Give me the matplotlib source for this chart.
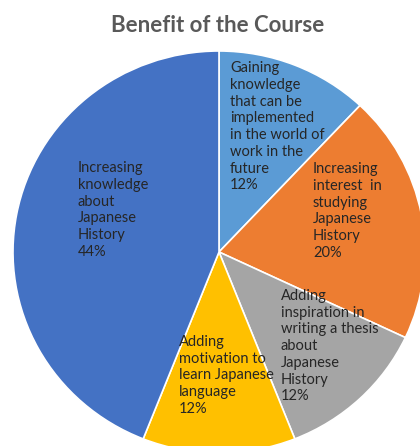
import matplotlib
matplotlib.use("Agg")
import matplotlib.pyplot as plt

# ── Data ──────────────────────────────────────────────────
categories = [
    "Gaining\nknowledge\nthat can be\nimplemented\nin the world of\nwork in the\nfuture",
    "Increasing\ninterest  in\nstudying\nJapanese\nHistory",
    "Adding\ninspiration in\nwriting a thesis\nabout\nJapanese\nHistory",
    "Adding\nmotivation to\nlearn Japanese\nlanguage",
    "Increasing\nknowledge\nabout\nJapanese\nHistory",
]
shares = [12, 20, 12, 12, 44]
colors = ["#5B9BD5", "#ED7D31", "#A5A5A5", "#FFC000", "#4472C4"]

# ── Layout (pixels, figure 420x446) ───────────────────────
W, H = 420, 446
cx, cy = 219, 252
RX, RY = 206, 201          # pie is slightly stretched horizontally
label_px = [(230, 61), (313, 162), (281, 289), (179, 335), (78, 161)]

plt.rcParams["font.family"] = ["Lato", "DejaVu Sans"]

fig = plt.figure(figsize=(W / 100, H / 100), dpi=100)
ax = fig.add_axes([0, 0, 1, 1])
ax.pie(shares, colors=colors, startangle=90, counterclock=False, radius=1,
       wedgeprops=dict(edgecolor="white", linewidth=1.2))
ax.set_xlim(-cx / RX, (W - cx) / RX)
ax.set_ylim((cy - H) / RY, cy / RY)
ax.set_aspect("auto")
ax.axis("off")

for cat, v, (px, py) in zip(categories, shares, label_px):
    ax.text((px - cx) / RX, (cy - py) / RY, f"{cat}\n{v}%",
            ha="left", va="top", fontsize=10.5, color="#262626",
            linespacing=1.25)

fig.text(218 / W, 1 - 26 / H, "Benefit of the Course", ha="center",
         va="center", fontsize=16, fontweight="bold", color="#595959")

fig.savefig("out.png", dpi=100)
